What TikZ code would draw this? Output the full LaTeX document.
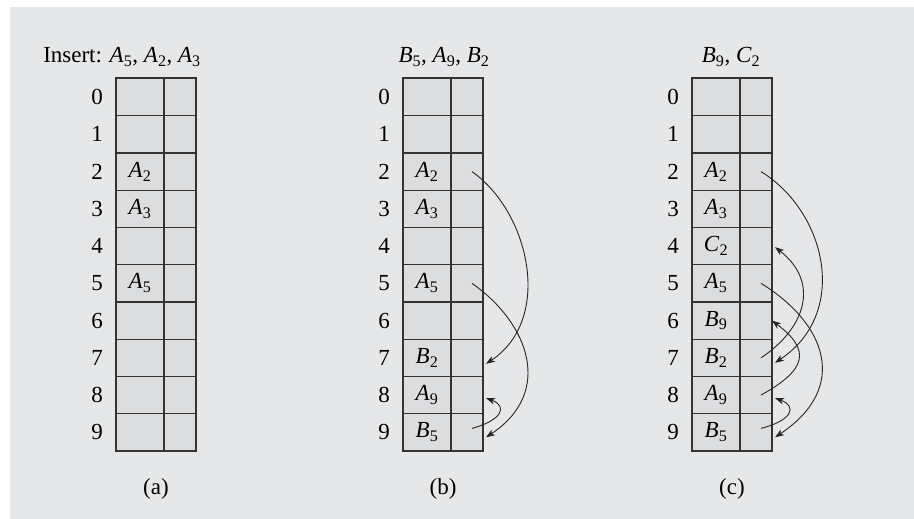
\documentclass[tikz,border=0pt]{standalone}
\usepackage{fontspec}
\setmainfont{Liberation Serif}
\usetikzlibrary{arrows.meta,positioning,calc}
\definecolor{bggray}{HTML}{E6E7E8}
\definecolor{cellgray}{HTML}{DCDDDF}
\definecolor{linegray}{HTML}{333333}
\newcommand{\ent}[2]{\textit{#1}\textsubscript{#2}}
\tikzset{
  >={Stealth[length=9pt,width=6.5pt,inset=2.5pt]},
  % tabell
  keycell/.style={draw=linegray,fill=cellgray,line width=1.1pt,inner sep=0pt,
                  outer sep=0pt,minimum width=48pt,minimum height=37.25pt},
  ptrcell/.style={keycell,minimum width=32pt},
  rowno/.style={inner sep=0pt},
  tabframe/.style={draw=linegray,line width=2pt},
  % pekare
  link/.style={->,draw=black!85,line width=0.9pt},
}

\begin{document}
\begin{tikzpicture}[x=1pt,y=-1pt,every node/.append style={font=\fontsize{23}{26}\selectfont}]
  \useasboundingbox (0,0) rectangle (914,519);
  \fill[bggray] (10,7) rectangle (914,519);
  \foreach \t/\x in {a/116,b/403,c/692} {
    \foreach \r in {0,...,9} {
      \node[keycell] (\t k\r) at (\x+24,{97.1+37.25*\r}) {};
      \node[ptrcell,right=0pt of \t k\r] (\t p\r) {};
      \node[rowno,left=13pt of \t k\r] (\t n\r) {\r};
    }
    \draw[tabframe] (\t k0.north west) rectangle (\t p9.south east);
  }
  % innehåll
  \foreach \t/\r/\k/\s in {a/2/A/2,a/3/A/3,a/5/A/5,
      b/2/A/2,b/3/A/3,b/5/A/5,b/7/B/2,b/8/A/9,b/9/B/5,
      c/2/A/2,c/3/A/3,c/4/C/2,c/5/A/5,c/6/B/9,c/7/B/2,c/8/A/9,c/9/B/5}
    \node (\t e\r) at (\t k\r) {\ent{\k}{\s}};
  \node (tita) at (122,57) {Insert: \ent{A}{5}, \ent{A}{2}, \ent{A}{3}};
  \node (titb) at (444,57) {\ent{B}{5}, \ent{A}{9}, \ent{B}{2}};
  \node (titc) at (731,57) {\ent{B}{9}, \ent{C}{2}};
  \node (capa) at (156,489) {(a)};
  \node (capb) at (443,489) {(b)};
  \node (capc) at (732,489) {(c)};
  % (b)
  \draw[link] ([xshift=5pt]bp2.center) .. controls +(57,40) and +(68,-45) .. ([shift={(3,6)}]bp7.east);
  \draw[link] ([xshift=5pt]bp5.center) .. controls +(57,40) and +(68,-45) .. ([shift={(3,5)}]bp9.east);
  \draw[link] ([shift={(5,-4)}]bp9.center) .. controls +(30,-8) and +(22,8) .. ([shift={(3,3)}]bp8.east);
  % (c)
  \draw[link] ([xshift=5pt]cp2.center) .. controls +(65,40) and +(75,-50) .. ([shift={(3,5)}]cp7.east);
  \draw[link] ([xshift=5pt]cp5.center) .. controls +(65,40) and +(75,-50) .. ([shift={(3,5)}]cp9.east);
  \draw[link] ([xshift=5pt]cp7.center) .. controls +(45,-30) and +(45,35) .. ([shift={(3,1)}]cp4.east);
  \draw[link] ([xshift=5pt]cp8.center) .. controls +(45,-25) and +(40,30) .. (cp6.east);
  \draw[link] ([shift={(5,-4)}]cp9.center) .. controls +(32,-8) and +(22,8) .. ([shift={(3,3)}]cp8.east);
\end{tikzpicture}
\end{document}
